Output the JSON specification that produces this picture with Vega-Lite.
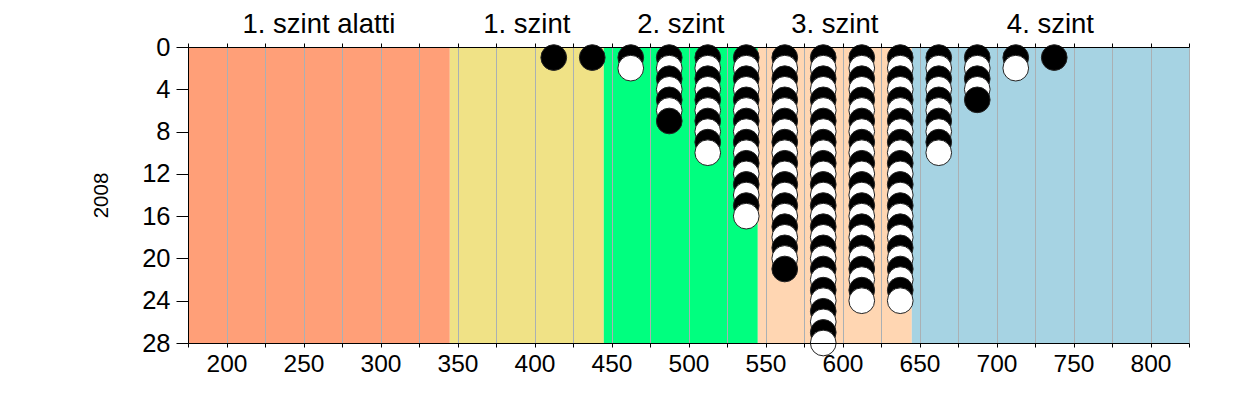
{
  "$schema": "https://vega.github.io/schema/vega-lite/v6.json",
  "width": 1001,
  "height": 296,
  "autosize": "none",
  "padding": {"left": 188, "top": 47, "right": 61, "bottom": 52},
  "background": "white",
  "config": {
    "view": {"stroke": null},
    "font": "Liberation Sans",
    "axis": {"labelFont": "Liberation Sans", "titleFont": "Liberation Sans", "labelColor": "black", "titleColor": "black", "domainColor": "black", "tickColor": "black"}
  },
  "datasets": {
    "bands": [
      {"start": 175, "end": 345, "label": "1. szint alatti"},
      {"start": 345, "end": 445, "label": "1. szint"},
      {"start": 445, "end": 545, "label": "2. szint"},
      {"start": 545, "end": 645, "label": "3. szint"},
      {"start": 645, "end": 825, "label": "4. szint"}
    ],
    "pts": [
      {"x":412.5,"y":1,"c":"b"},
      {"x":437.5,"y":1,"c":"b"},
      {"x":462.5,"y":1,"c":"b"},{"x":462.5,"y":2,"c":"w"},
      {"x":487.5,"y":1,"c":"b"},{"x":487.5,"y":2,"c":"w"},{"x":487.5,"y":3,"c":"b"},{"x":487.5,"y":4,"c":"w"},{"x":487.5,"y":5,"c":"b"},{"x":487.5,"y":6,"c":"w"},{"x":487.5,"y":7,"c":"b"},
      {"x":512.5,"y":1,"c":"b"},{"x":512.5,"y":2,"c":"w"},{"x":512.5,"y":3,"c":"b"},{"x":512.5,"y":4,"c":"w"},{"x":512.5,"y":5,"c":"b"},{"x":512.5,"y":6,"c":"w"},{"x":512.5,"y":7,"c":"b"},{"x":512.5,"y":8,"c":"w"},{"x":512.5,"y":9,"c":"b"},{"x":512.5,"y":10,"c":"w"},
      {"x":537.5,"y":1,"c":"b"},{"x":537.5,"y":2,"c":"w"},{"x":537.5,"y":3,"c":"b"},{"x":537.5,"y":4,"c":"w"},{"x":537.5,"y":5,"c":"b"},{"x":537.5,"y":6,"c":"w"},{"x":537.5,"y":7,"c":"b"},{"x":537.5,"y":8,"c":"w"},{"x":537.5,"y":9,"c":"b"},{"x":537.5,"y":10,"c":"w"},{"x":537.5,"y":11,"c":"b"},{"x":537.5,"y":12,"c":"w"},{"x":537.5,"y":13,"c":"b"},{"x":537.5,"y":14,"c":"w"},{"x":537.5,"y":15,"c":"b"},{"x":537.5,"y":16,"c":"w"},
      {"x":562.5,"y":1,"c":"b"},{"x":562.5,"y":2,"c":"w"},{"x":562.5,"y":3,"c":"b"},{"x":562.5,"y":4,"c":"w"},{"x":562.5,"y":5,"c":"b"},{"x":562.5,"y":6,"c":"w"},{"x":562.5,"y":7,"c":"b"},{"x":562.5,"y":8,"c":"w"},{"x":562.5,"y":9,"c":"b"},{"x":562.5,"y":10,"c":"w"},{"x":562.5,"y":11,"c":"b"},{"x":562.5,"y":12,"c":"w"},{"x":562.5,"y":13,"c":"b"},{"x":562.5,"y":14,"c":"w"},{"x":562.5,"y":15,"c":"b"},{"x":562.5,"y":16,"c":"w"},{"x":562.5,"y":17,"c":"b"},{"x":562.5,"y":18,"c":"w"},{"x":562.5,"y":19,"c":"b"},{"x":562.5,"y":20,"c":"w"},{"x":562.5,"y":21,"c":"b"},
      {"x":587.5,"y":1,"c":"b"},{"x":587.5,"y":2,"c":"w"},{"x":587.5,"y":3,"c":"b"},{"x":587.5,"y":4,"c":"w"},{"x":587.5,"y":5,"c":"b"},{"x":587.5,"y":6,"c":"w"},{"x":587.5,"y":7,"c":"b"},{"x":587.5,"y":8,"c":"w"},{"x":587.5,"y":9,"c":"b"},{"x":587.5,"y":10,"c":"w"},{"x":587.5,"y":11,"c":"b"},{"x":587.5,"y":12,"c":"w"},{"x":587.5,"y":13,"c":"b"},{"x":587.5,"y":14,"c":"w"},{"x":587.5,"y":15,"c":"b"},{"x":587.5,"y":16,"c":"w"},{"x":587.5,"y":17,"c":"b"},{"x":587.5,"y":18,"c":"w"},{"x":587.5,"y":19,"c":"b"},{"x":587.5,"y":20,"c":"w"},{"x":587.5,"y":21,"c":"b"},{"x":587.5,"y":22,"c":"w"},{"x":587.5,"y":23,"c":"b"},{"x":587.5,"y":24,"c":"w"},{"x":587.5,"y":25,"c":"b"},{"x":587.5,"y":26,"c":"w"},{"x":587.5,"y":27,"c":"b"},{"x":587.5,"y":28,"c":"w"},
      {"x":612.5,"y":1,"c":"b"},{"x":612.5,"y":2,"c":"w"},{"x":612.5,"y":3,"c":"b"},{"x":612.5,"y":4,"c":"w"},{"x":612.5,"y":5,"c":"b"},{"x":612.5,"y":6,"c":"w"},{"x":612.5,"y":7,"c":"b"},{"x":612.5,"y":8,"c":"w"},{"x":612.5,"y":9,"c":"b"},{"x":612.5,"y":10,"c":"w"},{"x":612.5,"y":11,"c":"b"},{"x":612.5,"y":12,"c":"w"},{"x":612.5,"y":13,"c":"b"},{"x":612.5,"y":14,"c":"w"},{"x":612.5,"y":15,"c":"b"},{"x":612.5,"y":16,"c":"w"},{"x":612.5,"y":17,"c":"b"},{"x":612.5,"y":18,"c":"w"},{"x":612.5,"y":19,"c":"b"},{"x":612.5,"y":20,"c":"w"},{"x":612.5,"y":21,"c":"b"},{"x":612.5,"y":22,"c":"w"},{"x":612.5,"y":23,"c":"b"},{"x":612.5,"y":24,"c":"w"},
      {"x":637.5,"y":1,"c":"b"},{"x":637.5,"y":2,"c":"w"},{"x":637.5,"y":3,"c":"b"},{"x":637.5,"y":4,"c":"w"},{"x":637.5,"y":5,"c":"b"},{"x":637.5,"y":6,"c":"w"},{"x":637.5,"y":7,"c":"b"},{"x":637.5,"y":8,"c":"w"},{"x":637.5,"y":9,"c":"b"},{"x":637.5,"y":10,"c":"w"},{"x":637.5,"y":11,"c":"b"},{"x":637.5,"y":12,"c":"w"},{"x":637.5,"y":13,"c":"b"},{"x":637.5,"y":14,"c":"w"},{"x":637.5,"y":15,"c":"b"},{"x":637.5,"y":16,"c":"w"},{"x":637.5,"y":17,"c":"b"},{"x":637.5,"y":18,"c":"w"},{"x":637.5,"y":19,"c":"b"},{"x":637.5,"y":20,"c":"w"},{"x":637.5,"y":21,"c":"b"},{"x":637.5,"y":22,"c":"w"},{"x":637.5,"y":23,"c":"b"},{"x":637.5,"y":24,"c":"w"},
      {"x":662.5,"y":1,"c":"b"},{"x":662.5,"y":2,"c":"w"},{"x":662.5,"y":3,"c":"b"},{"x":662.5,"y":4,"c":"w"},{"x":662.5,"y":5,"c":"b"},{"x":662.5,"y":6,"c":"w"},{"x":662.5,"y":7,"c":"b"},{"x":662.5,"y":8,"c":"w"},{"x":662.5,"y":9,"c":"b"},{"x":662.5,"y":10,"c":"w"},
      {"x":687.5,"y":1,"c":"b"},{"x":687.5,"y":2,"c":"w"},{"x":687.5,"y":3,"c":"b"},{"x":687.5,"y":4,"c":"w"},{"x":687.5,"y":5,"c":"b"},
      {"x":712.5,"y":1,"c":"b"},{"x":712.5,"y":2,"c":"w"},
      {"x":737.5,"y":1,"c":"b"}
    ]
  },
  "layer": [
    {
      "data": {"name": "bands"},
      "mark": {"type": "rect"},
      "encoding": {
        "x": {"field": "start", "type": "quantitative",
              "scale": {"domain": [175, 825], "nice": false, "zero": false},
              "axis": {"orient": "bottom", "values": [175,200,225,250,275,300,325,350,375,400,425,450,475,500,525,550,575,600,625,650,675,700,725,750,775,800,825],
                       "labelExpr": "datum.value % 50 == 0 ? datum.label : ''", "labelFontSize": 24.5, "labelPadding": 5, "tickSize": 4,
                       "grid": true, "gridColor": "#aab0b4", "gridWidth": 1, "zindex": 1, "title": null, "labelFlush": false, "labelOverlap": false}},
        "x2": {"field": "end"},
        "y": {"datum": 0, "type": "quantitative",
              "scale": {"domain": [0, 28], "reverse": true, "nice": false, "zero": false},
              "axis": {"orient": "left", "values": [0,4,8,12,16,20,24,28], "labelFontSize": 25.5, "tickSize": 12, "labelPadding": 6,
                       "grid": false, "zindex": 1, "title": "2008", "titleFontSize": 20.5, "titleFontWeight": "normal", "titlePadding": 30, "labelFlush": false}},
        "y2": {"datum": 28},
        "color": {"field": "label", "type": "nominal", "legend": null,
                  "scale": {"domain": ["1. szint alatti", "1. szint", "2. szint", "3. szint", "4. szint"],
                            "range": ["#FF9F78", "#F0E286", "#00FF7F", "#FFD6B2", "#A6D3E3"]}}
      }
    },
    {
      "data": {"name": "pts"},
      "mark": {"type": "point", "filled": true, "shape": "circle", "size": 660, "opacity": 1, "strokeWidth": 1, "stroke": "#222", "clip": false},
      "encoding": {
        "x": {"field": "x", "type": "quantitative",
              "axis": {"orient": "top", "values": [175,200,225,250,275,300,325,350,375,400,425,450,475,500,525,550,575,600,625,650,675,700,725,750,775,800,825],
                       "labels": false, "tickSize": 4, "grid": false, "title": null, "zindex": 1}},
        "y": {"field": "y", "type": "quantitative"},
        "fill": {"field": "c", "type": "nominal", "legend": null, "scale": {"domain": ["b", "w"], "range": ["black", "white"]}}
      }
    },
    {
      "data": {"name": "bands"},
      "transform": [{"fold": ["start", "end"], "as": ["k", "v"]}],
      "mark": {"type": "text", "fontSize": 27.5, "font": "Liberation Sans", "color": "black", "baseline": "alphabetic", "dy": -14, "clip": false},
      "encoding": {
        "x": {"field": "v", "type": "quantitative", "aggregate": "mean", "axis": null},
        "y": {"datum": 0},
        "text": {"field": "label"}
      }
    }
  ],
  "resolve": {"axis": {"x": "independent"}, "scale": {"x": "shared", "y": "shared"}}
}
